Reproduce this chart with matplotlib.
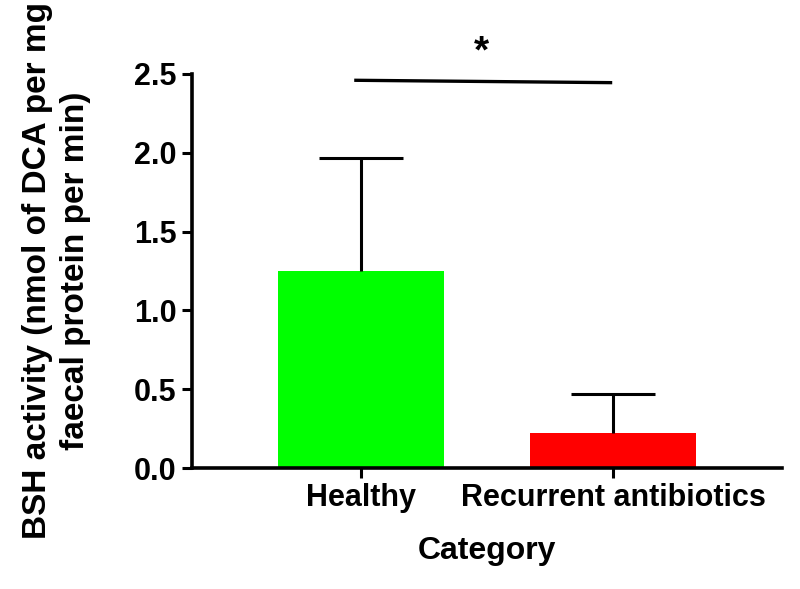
import matplotlib.pyplot as plt

# data
categories = ["Healthy", "Recurrent antibiotics"]
means = [1.25, 0.22]
sem_upper = [0.72, 0.25]
colors = ["#00ff00", "#ff0000"]

# significance bar
sig_x = [-0.02, 0.99]
sig_y = [2.46, 2.445]
sig_label = "*"

plt.rcParams['font.family'] = ['Liberation Sans', 'DejaVu Sans']
plt.rcParams['font.weight'] = 'bold'

fig = plt.figure(figsize=(8, 5.89), dpi=100)
ax = fig.add_axes([0.24, 0.2054, 0.7375, 0.669])

pos = list(range(len(categories)))
ax.bar(pos, means, width=0.66, color=colors, zorder=2)

# upper error bars only (no cap at the bar top)
tops = [m + e for m, e in zip(means, sem_upper)]
ax.vlines(pos, means, tops, color='black', linewidth=2.2, zorder=3)
ax.plot(pos, tops, linestyle='none', marker='_', markersize=60,
        markeredgewidth=2.2, color='black', zorder=3)

# significance line and star
ax.plot(sig_x, sig_y, color='black', linewidth=2.4, clip_on=False)
ax.text(0.48, 2.52, sig_label, ha='center', va='bottom', fontsize=28, clip_on=False)

ax.set_xlim(-0.67, 1.67)
ax.set_ylim(0, 2.5)
ax.set_yticks([0.0, 0.5, 1.0, 1.5, 2.0, 2.5])
ax.set_yticklabels([f"{v:.1f}" for v in [0.0, 0.5, 1.0, 1.5, 2.0, 2.5]])
ax.set_xticks(pos)
ax.set_xticklabels(categories)

ax.spines['top'].set_visible(False)
ax.spines['right'].set_visible(False)
for s in ['left', 'bottom']:
    ax.spines[s].set_linewidth(2.6)
ax.tick_params(axis='both', width=2.2, length=7, labelsize=22, pad=4)

ax.set_ylabel("BSH activity (nmol of DCA per mg\nfaecal protein per min)", fontsize=24,
              fontweight='bold', labelpad=31, linespacing=1.3)
ax.set_xlabel("Category", fontsize=23, fontweight='bold', labelpad=16)

plt.savefig("out.png", dpi=100)
